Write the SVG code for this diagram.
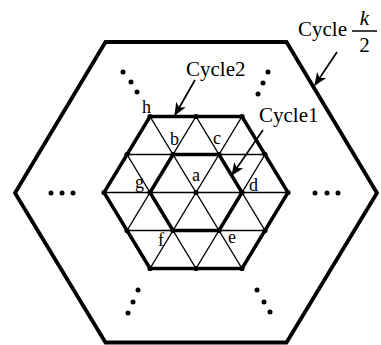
<svg xmlns="http://www.w3.org/2000/svg" width="381" height="345" viewBox="0 0 381 345">
<defs>
<style>
.thin{stroke:#000;stroke-width:1.4;fill:none}
.thick{stroke:#000;stroke-width:3.5;fill:none;stroke-linejoin:miter}
.outer{stroke:#000;stroke-width:3.8;fill:none;stroke-linejoin:miter}
.dot{fill:#000}
.lbl{font-family:"Liberation Serif","Times New Roman",serif;font-size:18px;fill:#000}
.cyc{font-family:"Liberation Serif","Times New Roman",serif;font-size:21px;fill:#000}
.arr{stroke:#000;stroke-width:1.7;fill:none}
</style>
<marker id="ah" viewBox="0 0 13 11" refX="12" refY="5.5" markerWidth="13" markerHeight="11" markerUnits="userSpaceOnUse" orient="auto">
<path d="M0,0 L13,5.5 L0,11 L3.5,5.5 Z" fill="#000"/>
</marker>
</defs>
<rect width="381" height="345" fill="#fff"/>
<g id="cycle-k2">
<polygon class="outer" points="105.5,42 286.5,42 377,193 286.5,342.5 105.5,342.5 15,193"/>
</g>
<g id="lattice">
<line class="thin" x1="127" y1="154.5" x2="265" y2="154.5"/>
<line class="thin" x1="104" y1="192.5" x2="288" y2="192.5"/>
<line class="thin" x1="127" y1="230.5" x2="265" y2="230.5"/>
<line class="thin" x1="127" y1="230.5" x2="196" y2="116.5"/>
<line class="thin" x1="150" y1="268.5" x2="242" y2="116.5"/>
<line class="thin" x1="196" y1="268.5" x2="265" y2="154.5"/>
<line class="thin" x1="127" y1="154.5" x2="196" y2="268.5"/>
<line class="thin" x1="150" y1="116.5" x2="242" y2="268.5"/>
<line class="thin" x1="196" y1="116.5" x2="265" y2="230.5"/>
</g>
<g id="cycle2">
<polygon class="thick" points="150,116.5 242,116.5 288,192.5 242,268.5 150,268.5 104,192.5"/>
</g>
<g id="cycle1">
<polygon class="thick" points="173,154.5 219,154.5 242,192.5 219,230.5 173,230.5 150,192.5"/>
</g>
<g id="dots">
<circle class="dot" cx="150" cy="116.5" r="2.6"/>
<circle class="dot" cx="196" cy="116.5" r="2.6"/>
<circle class="dot" cx="242" cy="116.5" r="2.6"/>
<circle class="dot" cx="127" cy="154.5" r="2.6"/>
<circle class="dot" cx="173" cy="154.5" r="2.6"/>
<circle class="dot" cx="219" cy="154.5" r="2.6"/>
<circle class="dot" cx="265" cy="154.5" r="2.6"/>
<circle class="dot" cx="104" cy="192.5" r="2.6"/>
<circle class="dot" cx="150" cy="192.5" r="2.6"/>
<circle class="dot" cx="196" cy="192.5" r="2.6"/>
<circle class="dot" cx="242" cy="192.5" r="2.6"/>
<circle class="dot" cx="288" cy="192.5" r="2.6"/>
<circle class="dot" cx="127" cy="230.5" r="2.6"/>
<circle class="dot" cx="173" cy="230.5" r="2.6"/>
<circle class="dot" cx="219" cy="230.5" r="2.6"/>
<circle class="dot" cx="265" cy="230.5" r="2.6"/>
<circle class="dot" cx="150" cy="268.5" r="2.6"/>
<circle class="dot" cx="196" cy="268.5" r="2.6"/>
<circle class="dot" cx="242" cy="268.5" r="2.6"/>
</g>
<g id="ellipses">
<circle class="dot" cx="51" cy="193" r="2.5"/>
<circle class="dot" cx="62" cy="193" r="2.5"/>
<circle class="dot" cx="73" cy="193" r="2.5"/>
<circle class="dot" cx="315" cy="193" r="2.5"/>
<circle class="dot" cx="327" cy="193" r="2.5"/>
<circle class="dot" cx="338" cy="193" r="2.5"/>
<circle class="dot" cx="123" cy="72" r="2.5"/>
<circle class="dot" cx="131" cy="82" r="2.5"/>
<circle class="dot" cx="137" cy="92" r="2.5"/>
<circle class="dot" cx="268" cy="72" r="2.5"/>
<circle class="dot" cx="263" cy="83" r="2.5"/>
<circle class="dot" cx="258" cy="94" r="2.5"/>
<circle class="dot" cx="138" cy="290" r="2.5"/>
<circle class="dot" cx="133" cy="302" r="2.5"/>
<circle class="dot" cx="128" cy="313" r="2.5"/>
<circle class="dot" cx="257" cy="290" r="2.5"/>
<circle class="dot" cx="264" cy="302" r="2.5"/>
<circle class="dot" cx="270" cy="312" r="2.5"/>
</g>
<g id="connectors">
<line class="arr" x1="337" y1="52" x2="315" y2="85" marker-end="url(#ah)"/>
<line class="arr" x1="195" y1="80" x2="175" y2="115" marker-end="url(#ah)"/>
<line class="arr" x1="263" y1="130" x2="232" y2="175" marker-end="url(#ah)"/>
</g>
<g id="labels">
<text class="lbl" x="142" y="113">h</text>
<text class="lbl" x="170" y="145">b</text>
<text class="lbl" x="213" y="144">c</text>
<text class="lbl" x="192" y="181">a</text>
<text class="lbl" x="135" y="188">g</text>
<text class="lbl" x="249" y="191">d</text>
<text class="lbl" x="228" y="243">e</text>
<text class="lbl" x="158" y="246">f</text>
<text class="cyc" x="186" y="76">Cycle2</text>
<text class="cyc" x="259" y="122">Cycle1</text>
<text class="cyc" x="298" y="36">Cycle</text>
<text class="cyc" x="364.5" y="25" text-anchor="middle" font-style="italic">k</text>
<line x1="352" y1="31" x2="377" y2="31" stroke="#000" stroke-width="1.5"/>
<text class="cyc" x="364.5" y="52" text-anchor="middle">2</text>
</g>
</svg>
